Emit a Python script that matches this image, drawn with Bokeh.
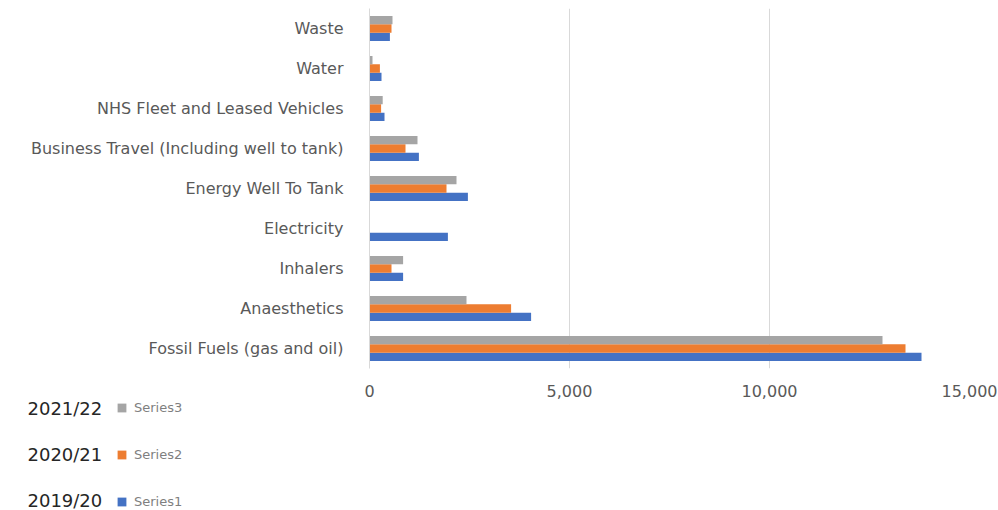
from bokeh.plotting import figure
from bokeh.layouts import column
from bokeh.models import FactorRange, Range1d, Legend, LegendItem, Label, NumeralTickFormatter, FixedTicker, ColumnDataSource
from bokeh.transform import dodge
from bokeh.embed import file_html
from bokeh.resources import INLINE

# categories listed bottom to top
categories = ["Fossil Fuels (gas and oil)", "Anaesthetics", "Inhalers", "Electricity",
              "Energy Well To Tank", "Business Travel (Including well to tank)",
              "NHS Fleet and Leased Vehicles", "Water", "Waste"]
series1 = [13800, 4040, 840, 1960, 2460, 1235, 375, 300, 510]   # 2019/20
series2 = [13400, 3540, 550, 0, 1925, 900, 290, 260, 550]       # 2020/21
series3 = [12825, 2425, 840, 0, 2175, 1200, 330, 75, 575]       # 2021/22
series_names = ["Series1", "Series2", "Series3"]
years = ["2019/20", "2020/21", "2021/22"]
x_ticks = [0, 5000, 10000, 15000]

colors = ["#4472C4", "#ED7D31", "#A5A5A5"]
FONT = "DejaVu Sans"

src = ColumnDataSource(dict(cat=categories, s1=series1, s2=series2, s3=series3))

p = figure(width=998, height=399, output_backend="svg", toolbar_location=None,
           y_range=FactorRange(*categories), x_range=Range1d(0, 15000),
           min_border_left=369, min_border_right=29, min_border_top=8, min_border_bottom=26)
p.outline_line_color = None
p.frame_align = False

bh = 0.207
r1 = p.hbar(y=dodge("cat", -bh, range=p.y_range), right="s1", left=0, height=bh, source=src,
            fill_color=colors[0], line_color=None)
r2 = p.hbar(y=dodge("cat", 0, range=p.y_range), right="s2", left=0, height=bh, source=src,
            fill_color=colors[1], line_color=None)
r3 = p.hbar(y=dodge("cat", bh, range=p.y_range), right="s3", left=0, height=bh, source=src,
            fill_color=colors[2], line_color=None)

p.ygrid.grid_line_color = None
p.xgrid.grid_line_color = "#D9D9D9"
p.xgrid.ticker = FixedTicker(ticks=x_ticks[1:])

p.xaxis.ticker = FixedTicker(ticks=x_ticks)
p.xaxis.formatter = NumeralTickFormatter(format="0,0")
p.xaxis.axis_line_color = None
p.xaxis.major_tick_line_color = None
p.xaxis.minor_tick_line_color = None
p.xaxis.major_label_text_font = FONT
p.xaxis.major_label_text_font_size = "16px"
p.xaxis.major_label_text_color = "#595959"
p.xaxis.major_label_standoff = 10

p.yaxis.axis_line_color = "#D9D9D9"
p.yaxis.major_tick_line_color = None
p.yaxis.minor_tick_line_color = None
p.yaxis.major_label_text_font = FONT
p.yaxis.major_label_text_font_size = "16px"
p.yaxis.major_label_text_color = "#595959"
p.yaxis.major_label_standoff = 20

# legend panel below the chart
lg = figure(width=998, height=111, output_backend="svg", toolbar_location=None,
            x_range=Range1d(0, 998), y_range=Range1d(0, 111),
            min_border_left=0, min_border_right=0, min_border_top=0, min_border_bottom=0)
lg.axis.visible = False
lg.grid.visible = False
lg.outline_line_color = None
lg.frame_align = False

# legend-key renderers (no visible marks of their own)
key_src = ColumnDataSource(dict(y=[float("nan")], right=[float("nan")]))
d = [lg.hbar(y="y", right="right", left=0, height=1, source=key_src, fill_color=c, line_color=None)
     for c in colors]

legend = Legend(items=[LegendItem(label=series_names[i], renderers=[d[i]]) for i in (2, 1, 0)],
                location=(116, 1), orientation="vertical",
                margin=0, padding=0, border_line_alpha=0, background_fill_alpha=0,
                glyph_width=11, glyph_height=11, label_height=14, spacing=32,
                label_text_font=FONT, label_text_font_size="13px", label_text_color="#7F7F7F",
                label_standoff=7)
lg.add_layout(legend, "center")

year_y = [10, 56, 102]
for yr, yy in zip(years, year_y):
    lg.add_layout(Label(x=27, y=yy, x_units="screen", y_units="screen", text=yr,
                        text_font=FONT, text_font_size="18px", text_color="#262626",
                        text_baseline="middle"))

layout = column(p, lg, spacing=0)
open("out.html", "w").write(file_html(layout, INLINE))
